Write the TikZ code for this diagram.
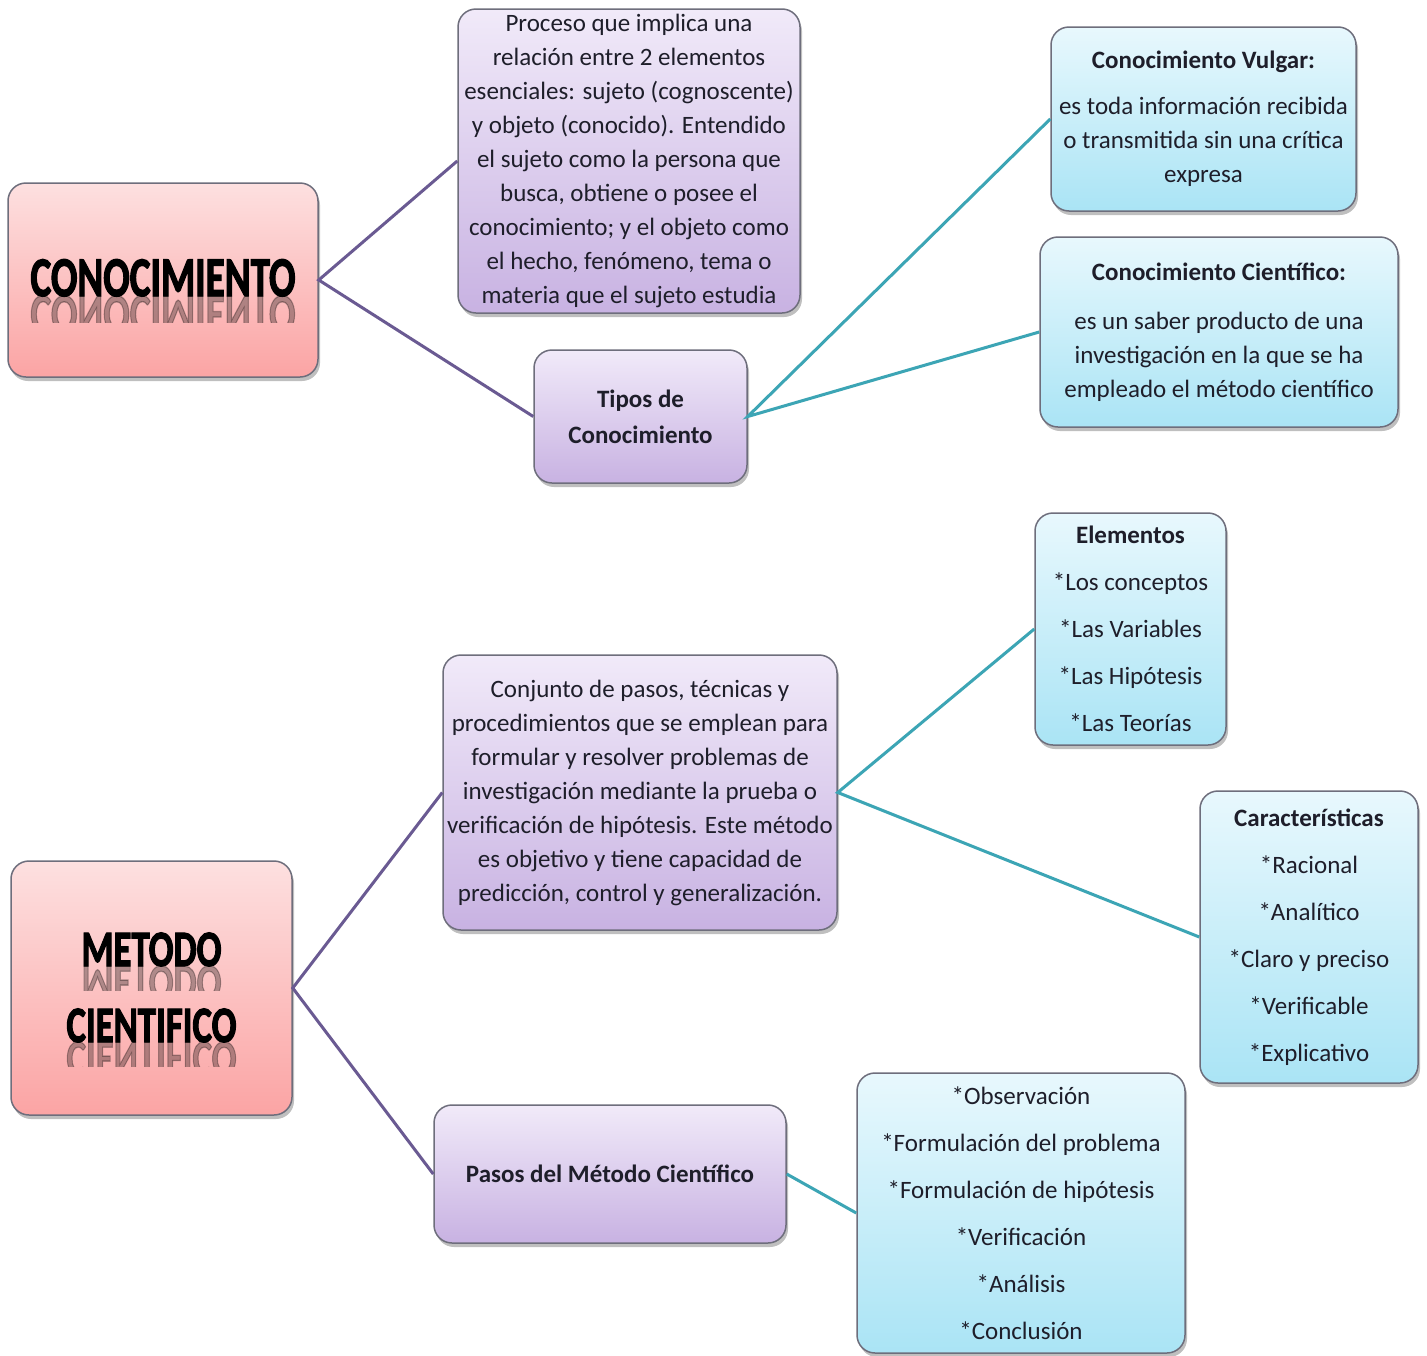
\documentclass[tikz,border=0pt]{standalone}
\usepackage{fontspec}
\setmainfont{Carlito}
\newfontfamily\heavyfont[FakeBold=2.5]{Carlito}
\usetikzlibrary{shadows}
\definecolor{txt}{HTML}{1E1E2A}
\definecolor{boxline}{HTML}{6E6E7C}
\definecolor{pinktop}{HTML}{FDE0E0}
\definecolor{pinkbot}{HTML}{FBA4A4}
\definecolor{purptop}{HTML}{F1EAF9}
\definecolor{purpbot}{HTML}{C8B2E2}
\definecolor{bluetop}{HTML}{E8F8FD}
\definecolor{bluebot}{HTML}{AAE4F5}
\definecolor{purpline}{HTML}{6A5A92}
\definecolor{tealline}{HTML}{3CA5B5}
\begin{document}
\begin{tikzpicture}[x=1pt,y=-1pt,
  box/.style={draw=boxline, line width=1.5pt, rounded corners=18pt,
    drop shadow={shadow xshift=2pt, shadow yshift=-4pt, opacity=0.45, fill=black!55},
    align=center, inner sep=0pt, text=txt, font=\fontsize{25}{34}\selectfont},
  pinkbox/.style={box, top color=pinktop, bottom color=pinkbot},
  purpbox/.style={box, top color=purptop, bottom color=purpbot},
  bluebox/.style={box, top color=bluetop, bottom color=bluebot},
  listbox/.style={bluebox, font=\fontsize{25}{47}\selectfont},
  bigtitle/.style={anchor=base, inner sep=0pt, text=black, font=\fontsize{56}{56}\heavyfont\bfseries},
  midtitle/.style={bigtitle, font=\fontsize{51}{51}\heavyfont\bfseries, xscale=0.72},
  plink/.style={draw=purpline, line width=3pt},
  tlink/.style={draw=tealline, line width=3pt}]
\useasboundingbox (0,0) rectangle (1427,1355);
\fill[white] (0,0) rectangle (1427,1355);

% boxes
\node[pinkbox, minimum width=310, minimum height=194] (conoc) at (163,280) {};
\node[purpbox, minimum width=342, minimum height=304] (proc) at (629,161)
  {Proceso que implica una\\relación entre 2 elementos\\esenciales: sujeto (cognoscente)\\y objeto (conocido). Entendido\\el sujeto como la persona que\\busca, obtiene o posee el\\conocimiento; y el objeto como\\el hecho, fenómeno, tema o\\materia que el sujeto estudia};
\node[purpbox, minimum width=213, minimum height=133, font=\fontsize{25}{36}\selectfont\bfseries] (tipos) at (640.5,416.5)
  {Tipos de\\Conocimiento};
\node[bluebox, minimum width=305, minimum height=184] (vulgar) at (1203.5,119)
  {{\bfseries Conocimiento Vulgar:}\\[12pt]es toda información recibida\\o transmitida sin una crítica\\expresa};
\node[bluebox, minimum width=358, minimum height=190] (cient) at (1219,332)
  {{\bfseries Conocimiento Científico:}\\[15pt]es un saber producto de una\\investigación en la que se ha\\empleado el método científico};

\node[pinkbox, minimum width=281, minimum height=254] (metodo) at (151.5,988) {};
\node[purpbox, minimum width=394, minimum height=275] (metdef) at (640,792.5)
  {Conjunto de pasos, técnicas y\\procedimientos que se emplean para\\formular y resolver problemas de\\investigación mediante la prueba o\\verificación de hipótesis. Este método\\es objetivo y tiene capacidad de\\predicción, control y generalización.};
\node[purpbox, minimum width=352, minimum height=138, font=\fontsize{25}{34}\selectfont\bfseries] (pasos) at (610,1174)
  {Pasos del Método Científico};
\node[listbox, minimum width=191, minimum height=232] (elem) at (1130.5,629)
  {{\bfseries Elementos}\\*Los conceptos\\*Las Variables\\*Las Hipótesis\\*Las Teorías};
\node[listbox, minimum width=218, minimum height=292] (carac) at (1309,937)
  {{\bfseries Características}\\*Racional\\*Analítico\\*Claro y preciso\\*Verificable\\*Explicativo};
\node[listbox, minimum width=328, minimum height=280] (plist) at (1021,1213)
  {*Observación\\*Formulación del problema\\*Formulación de hipótesis\\*Verificación\\*Análisis\\*Conclusión};

% big titles with reflection
\node[bigtitle, xscale=0.7] (t1) at (163,296) {CONOCIMIENTO};
\begin{scope}
  \clip (20,296) rectangle (310,322);
  \node[bigtitle, xscale=0.7, yscale=-1, opacity=0.3] (t1r) at (163,296) {CONOCIMIENTO};
\end{scope}
\node[midtitle] (t2) at (151.5,966) {METODO};
\begin{scope}
  \clip (40,966) rectangle (260,990);
  \node[midtitle, yscale=-1, opacity=0.3] (t2r) at (151.5,966) {METODO};
\end{scope}
\node[midtitle] (t3) at (151.5,1042) {CIENTIFICO};
\begin{scope}
  \clip (40,1042) rectangle (260,1066);
  \node[midtitle, yscale=-1, opacity=0.3] (t3r) at (151.5,1042) {CIENTIFICO};
\end{scope}

% connectors
\draw[plink] (proc.west) -- (conoc.east) -- (tipos.west);
\draw[tlink] (vulgar.west) -- (tipos.east) -- (cient.west);
\draw[plink] (metdef.west) -- (metodo.east) -- (pasos.west);
\draw[tlink] (elem.west) -- (metdef.east) -- (carac.west);
\draw[tlink] (pasos.east) -- (plist.west);
\end{tikzpicture}
\end{document}
